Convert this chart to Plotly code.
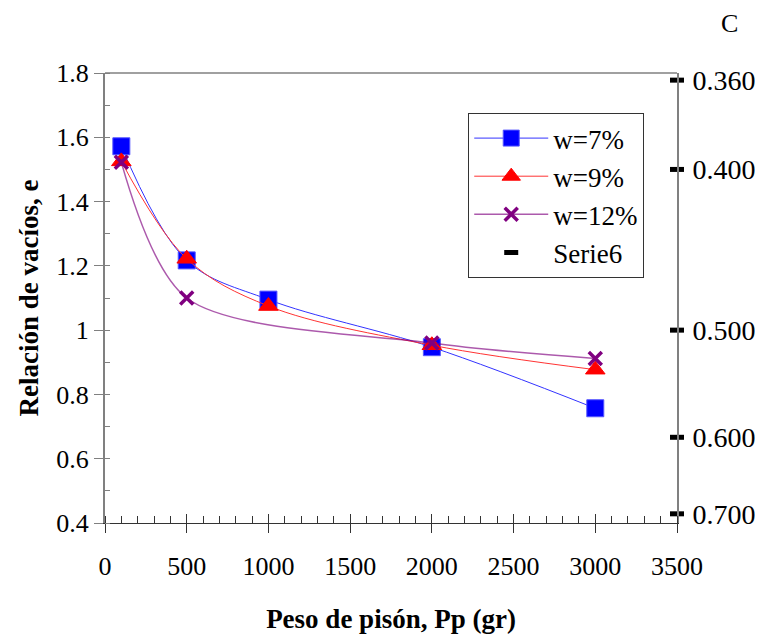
import plotly.graph_objects as go

# ---- data ----
pp_7 = [100, 500, 1000, 2000, 3000]
e_7 = [1.572, 1.217, 1.095, 0.947, 0.757]

pp_9 = [100, 500, 1000, 2000, 3000]
e_9 = [1.525, 1.222, 1.075, 0.953, 0.877]

pp_12 = [100, 500, 2000, 3000]
e_12 = [1.522, 1.100, 0.960, 0.912]

c_labels = ["0.360", "0.400", "0.500", "0.600", "0.700"]
c_values = [0.360, 0.400, 0.500, 0.600, 0.700]
e_from_c = [1.0 / c - 1.0 for c in c_values]
serie6_x = [3500] * len(e_from_c)

x_ticks = [0, 500, 1000, 1500, 2000, 2500, 3000, 3500]
y_ticks = [0.4, 0.6, 0.8, 1.0, 1.2, 1.4, 1.6, 1.8]
y_ticktext = ["0.4", "0.6", "0.8", "1", "1.2", "1.4", "1.6", "1.8"]

FONT = "Liberation Serif"
GRAY = "#808080"

fig = go.Figure()

fig.add_trace(go.Scatter(
    x=pp_7, y=e_7, name="w=7%", mode="lines+markers",
    line=dict(color="#3333FF", width=1, shape="spline", smoothing=1.0),
    marker=dict(symbol="square", size=17, color="#0000FF",
                line=dict(color="#5555FF", width=1)),
))
fig.add_trace(go.Scatter(
    x=pp_9, y=e_9, name="w=9%", mode="lines+markers",
    line=dict(color="#FF3333", width=1, shape="spline", smoothing=1.0),
    marker=dict(symbol="triangle-up", size=17, color="#FF0000",
                line=dict(color="#FF0000", width=1)),
))
fig.add_trace(go.Scatter(
    x=pp_12, y=e_12, name="w=12%", mode="lines+markers",
    line=dict(color="rgba(128,0,128,0.65)", width=1.5, shape="spline", smoothing=0.85),
    marker=dict(symbol="x-thin", size=13, color="#800080",
                line=dict(color="#800080", width=3.5)),
))
fig.add_trace(go.Scatter(
    x=serie6_x, y=e_from_c, name="Serie6", mode="markers",
    marker=dict(symbol="line-ew", size=10, color="black",
                line=dict(color="black", width=5)),
    cliponaxis=False,
))
fig.add_trace(go.Scatter(x=[None], y=[None], yaxis="y2", xaxis="x",
                         showlegend=False, hoverinfo="skip"))
fig.add_trace(go.Scatter(x=[None], y=[None], xaxis="x2", yaxis="y",
                         showlegend=False, hoverinfo="skip"))

fig.update_layout(
    width=763, height=638,
    margin=dict(l=97, r=94, t=65, b=123, autoexpand=False),
    paper_bgcolor="white", plot_bgcolor="white",
    font=dict(family=FONT, size=26, color="black"),
    showlegend=True,
    legend=dict(
        x=0.635, y=0.911, xanchor="left", yanchor="top",
        bordercolor="#333333", borderwidth=1, bgcolor="white",
        font=dict(family=FONT, size=27, color="black"),
        itemwidth=74, tracegroupgap=0,
    ),
    xaxis=dict(
        range=[0, 3500], tickvals=x_ticks, ticks="outside", ticklen=9,
        tickwidth=1.3, tickcolor="#333333",
        showline=True, linecolor="#333333", linewidth=1.3,
        showgrid=False, zeroline=False, automargin=False,
        tickfont=dict(family=FONT, size=26),
        ticklabelstandoff=11,
        minor=dict(dtick=100, ticks="inside", ticklen=7, tickcolor="#333333", tickwidth=1),
        title=dict(text="<b>Peso de pisón, Pp (gr)</b>",
                   font=dict(family=FONT, size=27), standoff=28),
    ),
    xaxis2=dict(
        range=[0, 3500], overlaying="x", anchor="y", side="bottom",
        tickvals=x_ticks, ticks="inside", ticklen=9, tickwidth=1.3,
        tickcolor="#333333", showticklabels=False, showgrid=False,
        zeroline=False, showline=False, automargin=False,
    ),
    yaxis=dict(
        range=[0.4, 1.8], tickvals=y_ticks, ticktext=y_ticktext,
        ticks="outside", ticklen=9, tickwidth=1.3, tickcolor=GRAY,
        showline=True, linecolor=GRAY, linewidth=2,
        showgrid=False, zeroline=False, automargin=False,
        tickfont=dict(family=FONT, size=26),
        minor=dict(dtick=0.1, tick0=0.4, ticks="inside", ticklen=5, tickcolor=GRAY, tickwidth=1.3),
        title=dict(text="<b>Relación de vacíos, e</b>",
                   font=dict(family=FONT, size=27), standoff=10),
    ),
    yaxis2=dict(
        range=[0.4, 1.8], overlaying="y", side="right", anchor="x",
        tickvals=e_from_c, ticktext=c_labels, ticks="",
        showline=True, linecolor=GRAY, linewidth=2,
        showgrid=False, zeroline=False, automargin=False,
        tickfont=dict(family=FONT, size=28),
        ticklabelstandoff=8,
    ),
    shapes=[dict(type="line", xref="paper", yref="paper", x0=0, x1=1, y0=1, y1=1,
                 line=dict(color=GRAY, width=1.5))],
    annotations=[dict(text="C", xref="paper", yref="paper", x=1.091, y=1.109,
                      xanchor="center", yanchor="middle", showarrow=False,
                      font=dict(family=FONT, size=26))],
)

fig.write_html("out.html")
